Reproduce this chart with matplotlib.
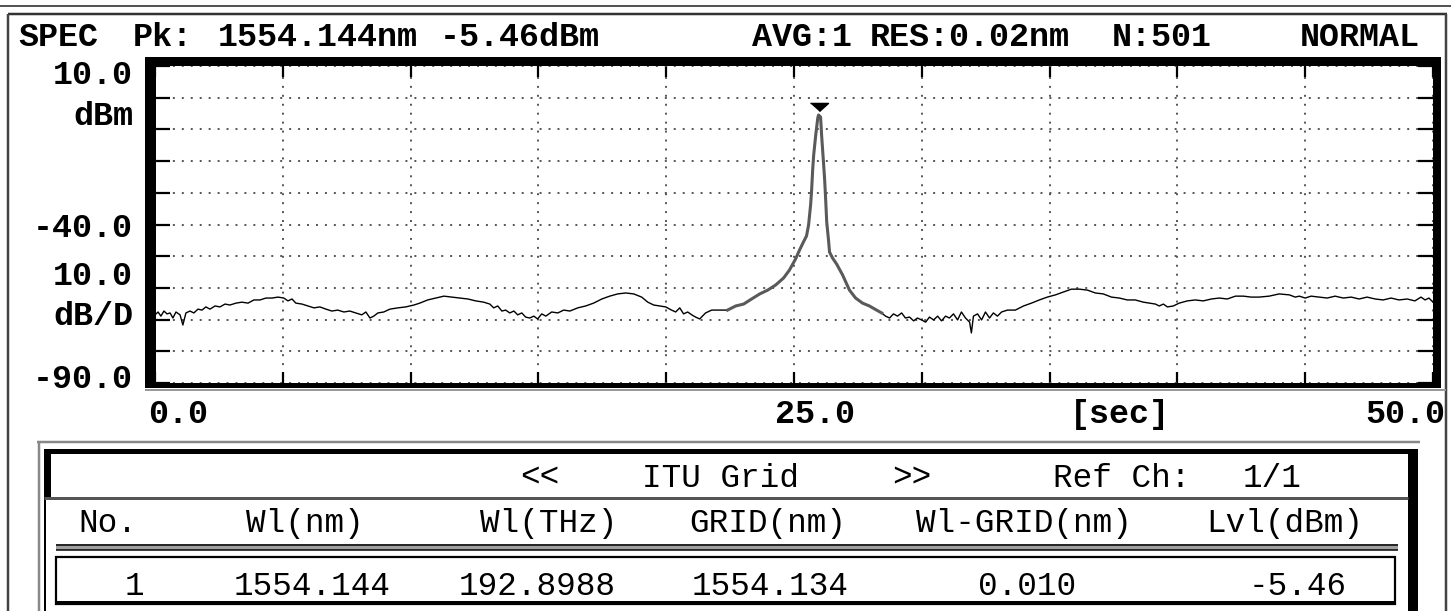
import numpy as np
import matplotlib
matplotlib.use("Agg")
import matplotlib.pyplot as plt
from matplotlib.patches import Rectangle
from matplotlib.lines import Line2D

# trace: time [sec] / level [dBm]
left_t = [0.00, 0.12, 0.23, 0.35, 0.47, 0.59, 0.70, 0.82, 0.98, 1.09,
          1.21, 1.37, 1.52, 1.68, 1.84, 1.99, 2.15, 2.35, 2.54, 2.74,
          2.93, 3.17, 3.40, 3.64, 3.87, 4.11, 4.34, 4.58, 4.81, 5.04,
          5.20, 5.36, 5.51, 5.75, 5.98, 6.22, 6.45, 6.69, 6.92, 7.15,
          7.39, 7.62, 7.86, 8.09, 8.25, 8.41, 8.56, 8.72, 8.95, 9.19,
          9.50, 9.81, 10.13, 10.36, 10.67, 10.99, 11.30, 11.61, 11.93, 12.24,
          12.55, 12.86, 13.10, 13.25, 13.41, 13.57, 13.72, 13.88, 14.04, 14.19,
          14.35, 14.50, 14.66, 14.82, 14.97, 15.13, 15.29, 15.52, 15.76, 15.99,
          16.23, 16.54, 16.85, 17.16, 17.48, 17.79, 18.10, 18.42, 18.73, 19.04,
          19.28, 19.51, 19.75, 19.98, 20.21, 20.37, 20.53, 20.68, 20.84, 21.00,
          21.15, 21.31, 21.54, 21.78, 22.09]
left_db = [-68.5, -67.6, -68.9, -67.3, -68.2, -67.9, -69.5, -67.6, -68.5, -71.7,
           -67.9, -67.3, -67.9, -66.7, -67.0, -66.0, -66.7, -65.7, -66.0, -65.1,
           -65.4, -64.8, -64.5, -64.8, -63.8, -63.8, -63.2, -63.2, -62.9, -63.2,
           -64.1, -63.5, -64.8, -65.1, -65.7, -66.3, -66.0, -66.7, -67.3, -67.0,
           -67.6, -67.3, -67.9, -68.5, -67.6, -69.5, -68.9, -67.9, -67.6, -66.7,
           -66.3, -66.0, -65.4, -64.8, -63.8, -63.2, -62.6, -62.9, -63.2, -63.5,
           -64.1, -64.5, -65.1, -66.3, -65.7, -67.3, -67.0, -67.9, -67.3, -68.5,
           -67.9, -69.2, -69.5, -68.9, -69.8, -68.2, -68.9, -67.6, -67.9, -67.0,
           -67.3, -66.3, -65.7, -64.8, -63.5, -62.6, -61.9, -61.6, -61.9, -62.9,
           -64.5, -65.4, -65.7, -66.0, -67.0, -67.6, -66.3, -68.2, -67.6, -68.5,
           -69.2, -69.8, -67.9, -67.0, -67.0]

peak_t = [22.40, 22.72, 23.03, 23.34, 23.66, 23.97, 24.28, 24.59, 24.82, 25.06,
          25.22, 25.37, 25.49, 25.57, 25.65, 25.69, 25.73, 25.77, 25.85, 25.93,
          25.96, 26.04, 26.08, 26.12, 26.16, 26.20, 26.24, 26.28, 26.35, 26.39,
          26.51, 26.67, 26.90, 27.17, 27.41, 27.68, 27.95, 28.23, 28.43]
peak_db = [-67.0, -65.7, -65.1, -63.5, -61.9, -60.7, -59.1, -56.9, -54.4, -50.9,
           -48.0, -45.5, -43.6, -40.2, -33.8, -29.1, -22.8, -18.1, -11.8, -6.4,
           -5.46, -6.1, -11.8, -16.5, -21.2, -26.0, -32.3, -39.2, -44.9, -48.7,
           -50.6, -52.5, -55.9, -60.7, -63.2, -64.8, -65.7, -67.0, -67.9]

right_t = [28.58, 28.74, 28.89, 29.05, 29.21, 29.36, 29.52, 29.68, 29.83, 29.99,
           30.15, 30.30, 30.46, 30.62, 30.77, 30.93, 31.08, 31.24, 31.40, 31.55,
           31.71, 31.87, 31.94, 32.02, 32.18, 32.34, 32.49, 32.65, 32.80, 32.96,
           33.12, 33.35, 33.66, 33.98, 34.29, 34.60, 34.91, 35.23, 35.54, 35.85,
           36.17, 36.48, 36.79, 37.10, 37.42, 37.73, 38.04, 38.35, 38.67, 38.90,
           39.14, 39.29, 39.45, 39.61, 39.84, 40.07, 40.39, 40.70, 41.01, 41.33,
           41.64, 41.95, 42.27, 42.58, 42.89, 43.20, 43.59, 43.98, 44.38, 44.61,
           44.77, 45.00, 45.23, 45.55, 45.86, 46.17, 46.49, 46.80, 47.11, 47.42,
           47.74, 48.05, 48.36, 48.67, 48.99, 49.29, 49.53, 49.69, 49.84, 50.00]
right_db = [-68.9, -69.5, -68.2, -68.9, -67.9, -69.5, -69.2, -70.4, -69.5, -70.1,
            -70.8, -69.2, -70.1, -68.9, -70.4, -68.9, -69.5, -68.2, -70.1, -67.6,
            -69.5, -70.8, -74.2, -68.9, -68.2, -70.1, -67.6, -69.5, -67.9, -68.9,
            -67.6, -67.0, -67.0, -65.7, -64.8, -63.8, -62.9, -62.2, -61.3, -60.4,
            -60.4, -60.7, -61.6, -61.9, -62.9, -63.2, -63.8, -63.8, -64.5, -64.8,
            -65.1, -65.7, -65.1, -66.0, -65.7, -64.8, -64.1, -63.8, -64.1, -63.5,
            -63.2, -63.5, -62.6, -62.6, -62.9, -62.9, -62.6, -61.9, -62.2, -62.9,
            -62.6, -63.2, -62.6, -62.9, -63.2, -62.6, -63.2, -62.9, -63.5, -62.9,
            -63.5, -63.8, -63.2, -63.8, -63.5, -64.1, -62.9, -63.8, -63.2, -64.5]

header_texts = ["SPEC", "Pk:", "1554.144nm", "-5.46dBm", "AVG:1", "RES:0.02nm", "N:501", "NORMAL"]
y_labels = ["10.0", "dBm", "-40.0", "10.0", "dB/D", "-90.0"]
x_labels = ["0.0", "25.0", "[sec]", "50.0"]
itu_row = ["<<", "ITU Grid", ">>", "Ref Ch:", "1/1"]
col_heads = ["No.", "Wl(nm)", "Wl(THz)", "GRID(nm)", "Wl-GRID(nm)", "Lvl(dBm)"]
row_vals = ["1", "1554.144", "192.8988", "1554.134", "0.010", "-5.46"]

# layout (pixels of the screen grab)
W, H = 1451, 611
header_x = [18, 133, 218, 440, 752, 870, 1112, 1300]
ylab_base = [84, 125, 237, 285, 325, 388]
xlab_x = [148, 815, 1120, 1445]
xlab_ha = ["left", "center", "center", "right"]
itu_x = [540, 720, 912, 1122, 1272]
col_x = [108, 305, 549, 768, 1024, 1285]
val_x = [134, 312, 537, 770, 1027, 1298]

MONO = ["Liberation Mono", "DejaVu Sans Mono"]


def fx(x):
    return x / W


def fy(y):
    return 1 - y / H


fig = plt.figure(figsize=(W / 100, H / 100), dpi=100)


def rect(x0, y0, x1, y1, color):
    fig.add_artist(Rectangle((fx(x0), fy(y1)), (x1 - x0) / W, (y1 - y0) / H,
                             transform=fig.transFigure, facecolor=color,
                             edgecolor="none", zorder=5))


def hline(x0, x1, y, px, color):
    fig.add_artist(Line2D([fx(x0), fx(x1)], [fy(y), fy(y)], transform=fig.transFigure,
                          lw=px * 0.72, color=color, zorder=5, solid_capstyle="butt"))


def vline(x, y0, y1, px, color):
    fig.add_artist(Line2D([fx(x), fx(x)], [fy(y0), fy(y1)], transform=fig.transFigure,
                          lw=px * 0.72, color=color, zorder=5, solid_capstyle="butt"))


# plot area
ax = fig.add_axes([fx(155), fy(383), (1433 - 155) / W, (383 - 66) / H])
ax.set_xlim(0, 50)
ax.set_ylim(-90, 10)
ax.set_xticks(np.arange(0, 51, 5))
ax.set_yticks(np.arange(-90, 11, 10))
ax.grid(True, color="#555555", linestyle=(0, (1, 3.6)), lw=1.4)
ax.tick_params(axis="both", direction="in", labelleft=False, labelbottom=False,
               color="black", width=1.6)
ax.tick_params(axis="y", left=True, right=True, length=10.5)
ax.tick_params(axis="x", top=True, bottom=True, length=8)
for s in ax.spines.values():
    s.set_visible(False)

all_t = left_t + peak_t + right_t
all_db = left_db + peak_db + right_db
ax.plot(all_t, all_db, color="black", lw=1.0)
ax.plot(peak_t, peak_db, color="#5a5a5a", lw=2.2)
i_pk = int(np.argmax(peak_db))
ax.plot(peak_t[i_pk], peak_db[i_pk] + 2.6, marker=[(-1, 0.45), (1, 0.45), (0, -0.45)],
        ms=13, color="black", clip_on=False)

# frames
hline(0, W, 5.5, 2, "#555555")
hline(8, 1447, 14, 2.5, "#333333")
vline(8, 14, H, 2.5, "#444444")
vline(1446, 14, H, 2.5, "#444444")
rect(145, 57, 1441, 66, "black")
rect(145, 57, 155.5, 387, "black")
rect(1432.5, 57, 1441, 387, "black")
rect(145, 383, 1441, 387.5, "black")
hline(145, 1446, 389.5, 2, "#999999")

# table frame
hline(37, 1420, 442, 2.5, "#888888")
vline(38.5, 442, H, 2.5, "#888888")
rect(44, 449, 1418, 453.5, "black")
rect(44, 449, 51, 497, "black")
vline(45, 449, H, 2, "black")
rect(1408, 449, 1418, H, "black")
hline(44, 1408, 497.5, 3, "#555555")
rect(56, 544, 1398, 550, "#a0a0a0")
hline(56, 1398, 544.5, 1.5, "black")
hline(56, 1398, 549.5, 1.5, "black")
fig.add_artist(Rectangle((fx(56), fy(604)), (1395 - 56) / W, (604 - 557) / H,
                         transform=fig.transFigure, facecolor="none",
                         edgecolor="black", lw=1.6, zorder=5))
rect(56, 601, 1395, 605, "black")

# texts
for s, x in zip(header_texts, header_x):
    fig.text(fx(x), fy(46), s, ha="left", va="baseline", family=MONO,
             weight="bold", size=24)
for s, y in zip(y_labels, ylab_base):
    fig.text(fx(133), fy(y), s, ha="right", va="baseline", family=MONO,
             weight="bold", size=24)
for s, x, ha in zip(x_labels, xlab_x, xlab_ha):
    fig.text(fx(x), fy(423), s, ha=ha, va="baseline", family=MONO,
             weight="bold", size=24)
for s, x in zip(itu_row, itu_x):
    fig.text(fx(x), fy(487), s, ha="center", va="baseline", family=MONO, size=23.5)
for s, x in zip(col_heads, col_x):
    fig.text(fx(x), fy(532), s, ha="center", va="baseline", family=MONO, size=23.5)
for s, x in zip(row_vals, val_x):
    fig.text(fx(x), fy(595), s, ha="center", va="baseline", family=MONO, size=23.5)

fig.savefig("out.png", dpi=100)
